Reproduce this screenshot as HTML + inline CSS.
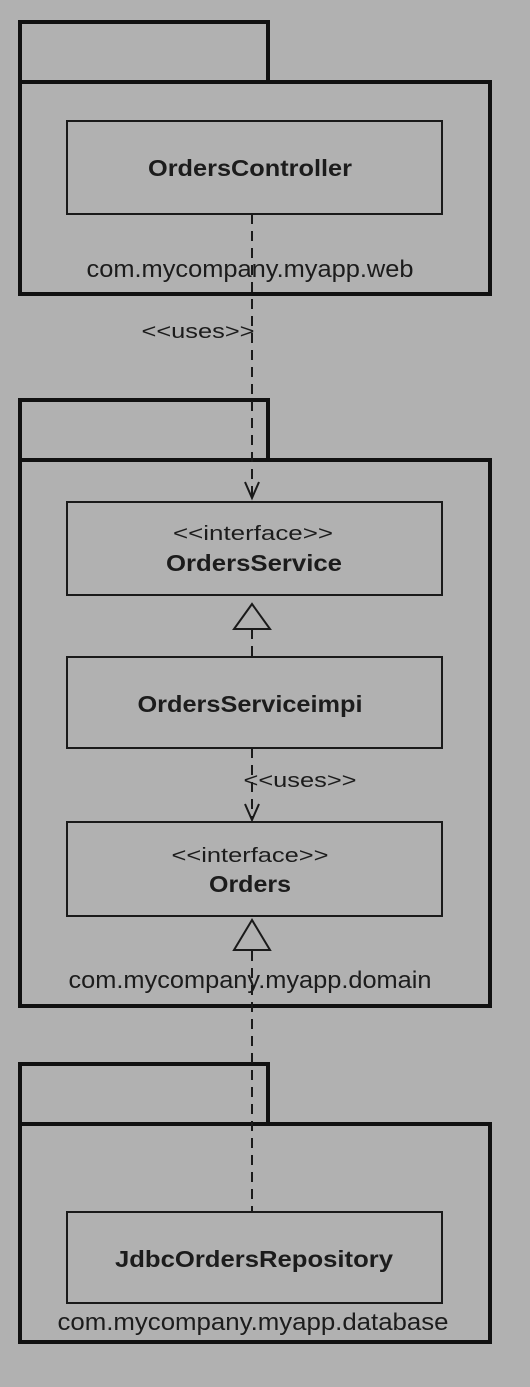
<!DOCTYPE html>
<html><head><style>html,body{margin:0;padding:0;background:#b1b1b1}</style></head>
<body>
<svg width="530" height="1382" viewBox="0 0 530 1382" xmlns="http://www.w3.org/2000/svg" font-family="Liberation Sans, sans-serif" fill="#1c1c1c">
<rect width="530" height="1382" fill="#b1b1b1"/>
<g fill="none" stroke="#111" stroke-width="4">
<path d="M20 82 V22 H268 V82"/>
<rect x="20" y="82" width="470" height="212"/>
<path d="M20 460 V400 H268 V460"/>
<rect x="20" y="460" width="470" height="546"/>
<path d="M20 1124 V1064 H268 V1124"/>
<rect x="20" y="1124" width="470" height="218"/>
</g>
<g fill="none" stroke="#1a1a1a" stroke-width="2">
<rect x="67" y="121" width="375" height="93"/>
<rect x="67" y="502" width="375" height="93"/>
<rect x="67" y="657" width="375" height="91"/>
<rect x="67" y="822" width="375" height="94"/>
<rect x="67" y="1212" width="375" height="91"/>
</g>
<g stroke="#1a1a1a" stroke-width="2" stroke-dasharray="10,7" fill="none">
<line x1="252" y1="214" x2="252" y2="496"/>
<line x1="252" y1="629" x2="252" y2="657"/>
<line x1="252" y1="748" x2="252" y2="818"/>
<line x1="252" y1="951" x2="252" y2="1212"/>
</g>
<g stroke="#1a1a1a" stroke-width="2" fill="none">
<path d="M245 482 L252 498 L259 482"/>
<path d="M245 804 L252 820 L259 804"/>
<path d="M252 604 L234 629 L270 629 Z"/>
<path d="M252 920 L234 950 L270 950 Z"/>
</g>
<g text-anchor="middle">
<text x="250" y="176" font-size="23" font-weight="bold" textLength="204" lengthAdjust="spacingAndGlyphs">OrdersController</text>
<text x="250" y="277" font-size="24" textLength="327" lengthAdjust="spacingAndGlyphs">com.mycompany.myapp.web</text>
<text x="198" y="338" font-size="20" textLength="113" lengthAdjust="spacingAndGlyphs">&lt;&lt;uses&gt;&gt;</text>
<text x="253" y="540" font-size="20" textLength="160" lengthAdjust="spacingAndGlyphs">&lt;&lt;interface&gt;&gt;</text>
<text x="254" y="571" font-size="23" font-weight="bold" textLength="176" lengthAdjust="spacingAndGlyphs">OrdersService</text>
<text x="250" y="712" font-size="23" font-weight="bold" textLength="225" lengthAdjust="spacingAndGlyphs">OrdersServiceimpi</text>
<text x="300" y="787" font-size="20" textLength="113" lengthAdjust="spacingAndGlyphs">&lt;&lt;uses&gt;&gt;</text>
<text x="250" y="862" font-size="20" textLength="157" lengthAdjust="spacingAndGlyphs">&lt;&lt;interface&gt;&gt;</text>
<text x="250" y="892" font-size="23" font-weight="bold" textLength="82" lengthAdjust="spacingAndGlyphs">Orders</text>
<text x="250" y="988" font-size="24" textLength="363" lengthAdjust="spacingAndGlyphs">com.mycompany.myapp.domain</text>
<text x="254" y="1267" font-size="23" font-weight="bold" textLength="278" lengthAdjust="spacingAndGlyphs">JdbcOrdersRepository</text>
<text x="253" y="1330" font-size="24" textLength="391" lengthAdjust="spacingAndGlyphs">com.mycompany.myapp.database</text>
</g>
</svg>
</body></html>
